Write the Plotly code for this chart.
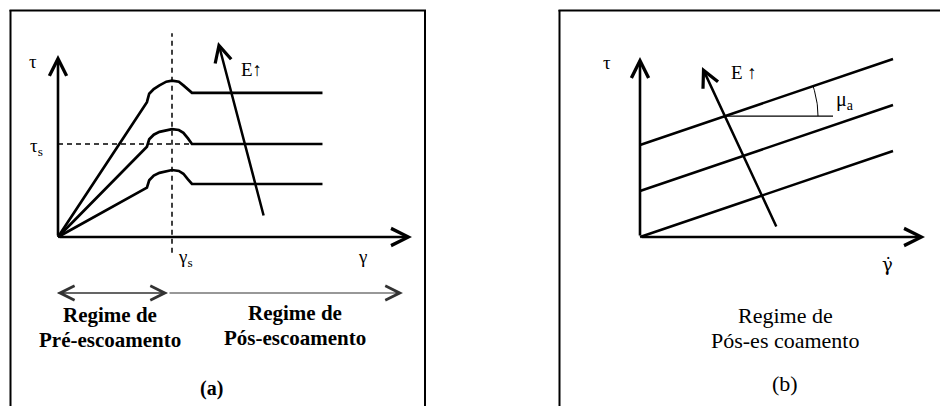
import numpy as np
import plotly.graph_objects as go

# ---------------- Panel (a): pre-/post-yield stress-strain curves ----------------
# strain in units of the yield strain (gamma_s = 1), stress in units of tau_s (= 1)
GAMMA_A = [0, 0.78, 0.80, 0.84, 0.89, 0.95, 1.0, 1.06, 1.10, 1.14, 1.175, 2.32]
TAU_HIGH = [0, 1.45, 1.54, 1.59, 1.63, 1.67, 1.68, 1.67, 1.63, 1.59, 1.55, 1.55]
TAU_MID = [0, 0.97, 1.05, 1.10, 1.13, 1.15, 1.16, 1.15, 1.12, 1.06, 1.00, 1.00]
TAU_LOW = [0, 0.53, 0.61, 0.66, 0.69, 0.71, 0.72, 0.71, 0.68, 0.62, 0.57, 0.57]
GAMMA_S = 1.0
TAU_S = 1.0
PLATEAU_START = 1.175

# ---------------- Panel (b): Bingham lines in the post-yield regime ----------------
GAMMADOT_B = [0.0, 2.53]
TAU0_B = [0.0, 0.46, 0.92]      # dynamic yield stress of each line
MU_A = 0.34                      # common slope (plastic viscosity)
GAMMADOT_MU = 0.85               # where the slope marker sits on the top line

LABELS_A = {"pre": ["Regime de", "Pré-escoamento"], "post": ["Regime de", "Pós-escoamento"]}
LABELS_B = ["Regime de", "Pós-es coamento"]

SERIF = "Liberation Serif"
BLACK = "black"

fig = go.Figure()

# curves of panel (a)
for tau in (TAU_HIGH, TAU_MID, TAU_LOW):
    fig.add_trace(go.Scatter(x=GAMMA_A, y=tau, mode="lines",
                             line=dict(color=BLACK, width=2.7),
                             xaxis="x", yaxis="y", hoverinfo="skip"))

# yield guides (dashed)
fig.add_trace(go.Scatter(x=[GAMMA_S, GAMMA_S], y=[-0.17, 2.19], mode="lines",
                         line=dict(color=BLACK, width=1.5, dash="5px,4px"),
                         xaxis="x", yaxis="y", hoverinfo="skip"))
fig.add_trace(go.Scatter(x=[0, PLATEAU_START], y=[TAU_S, TAU_S], mode="lines",
                         line=dict(color=BLACK, width=1.5, dash="5px,4px"),
                         xaxis="x", yaxis="y", hoverinfo="skip"))

# lines of panel (b)
gd = np.array(GAMMADOT_B)
for t0 in TAU0_B:
    fig.add_trace(go.Scatter(x=gd, y=t0 + MU_A * gd, mode="lines",
                             line=dict(color=BLACK, width=2.5),
                             xaxis="x2", yaxis="y2", hoverinfo="skip"))

# slope marker: horizontal reference and angle arc
x0 = GAMMADOT_MU
y0 = TAU0_B[-1] + MU_A * x0
fig.add_trace(go.Scatter(x=[x0, x0 + 1.08], y=[y0, y0], mode="lines",
                         line=dict(color=BLACK, width=1.3),
                         xaxis="x2", yaxis="y2", hoverinfo="skip"))
theta = np.linspace(0, np.arctan(MU_A), 20)
r = 0.93
fig.add_trace(go.Scatter(x=x0 + r * np.cos(theta), y=y0 + r * np.sin(theta), mode="lines",
                         line=dict(color=BLACK, width=1.0),
                         xaxis="x2", yaxis="y2", hoverinfo="skip"))


def arrow(x, y, ax, ay, ref, width=2.6, head=5, size=1.3, color=BLACK):
    xr, yr = ref
    return dict(x=x, y=y, ax=ax, ay=ay, xref=xr, yref=yr, axref=xr, ayref=yr,
                text="", showarrow=True, arrowhead=head,
                arrowsize=size, arrowwidth=width, arrowcolor=color, standoff=0)


def label(x, y, text, ref, size=16, color=BLACK, family=SERIF):
    xr, yr = ref
    return dict(x=x, y=y, xref=xr, yref=yr, text=text, showarrow=False,
                font=dict(family=family, size=size, color=color),
                xanchor="center", yanchor="middle")


A = ("x", "y")
B = ("x2", "y2")
ann = []

# axes of panel (a)
ann.append(arrow(0, 1.957, 0, 0, A))
ann.append(arrow(3.105, 0, 0, 0, A))
# field-strength arrow (a)
ann.append(arrow(1.404, 2.097, 1.807, 0.215, A, width=2.5))
# regime span arrows
ann.append(arrow(-0.01, -0.602, 0.965, -0.602, A, width=1.1, size=2.6, color="#333"))
ann.append(arrow(0.965, -0.602, -0.01, -0.602, A, width=1.1, size=2.6, color="#333"))
ann.append(arrow(3.026, -0.602, 0.965, -0.602, A, width=1.1, size=2.6, color="#333"))

ann.append(label(-0.219, 1.882, "τ", A, 19))
ann.append(label(-0.19, 0.968, "τ<sub>s</sub>", A, 19))
ann.append(label(1.12, -0.226, "γ<sub>s</sub>", A, 19))
ann.append(label(2.675, -0.215, "γ", A, 19))
ann.append(label(1.693, 1.796, "E↑", A, 19))
ann.append(label(0.456, -0.839, "<b>%s</b>" % LABELS_A["pre"][0], A, 21))
ann.append(label(0.456, -1.108, "<b>%s</b>" % LABELS_A["pre"][1], A, 21))
ann.append(label(2.079, -0.817, "<b>%s</b>" % LABELS_A["post"][0], A, 21))
ann.append(label(2.079, -1.086, "<b>%s</b>" % LABELS_A["post"][1], A, 21))
ann.append(label(1.35, -1.63, "<b>(a)</b>", A, 20))

# axes of panel (b)
ann.append(arrow(0, 1.80, 0, 0, B))
ann.append(arrow(2.85, 0, 0, 0, B))
ann.append(arrow(0.62, 1.70, 1.37, 0.09, B, width=2.5))

ann.append(label(-0.33, 1.75, "τ", B, 19))
ann.append(label(1.04, 1.65, "E ↑", B, 19))
ann.append(label(2.05, 1.37, "μ<sub>a</sub>", B, 20))
ann.append(label(2.47, -0.27, "\u03b3\u0307", B, 18, family="DejaVu Serif"))
ann.append(label(1.45, -0.78, LABELS_B[0], B, 22))
ann.append(label(1.45, -1.03, LABELS_B[1], B, 22))
ann.append(label(1.45, -1.46, "(b)", B, 22))

# panel frames
W, H = 940.0, 406.0
def vline(px, top_px):
    return dict(type="line", xref="paper", yref="paper", x0=px / W, x1=px / W,
                y0=0, y1=1 - top_px / H, line=dict(color=BLACK, width=2))
def hline(px0, px1, py):
    return dict(type="line", xref="paper", yref="paper", x0=px0 / W, x1=px1 / W,
                y0=1 - py / H, y1=1 - py / H, line=dict(color=BLACK, width=2))

shapes = [vline(10.5, 10), hline(9.5, 426, 10.5), vline(425, 10),
          vline(559.5, 10), hline(558.5, 940, 10.5)]

fig.update_layout(
    width=940, height=406,
    margin=dict(l=0, r=0, t=0, b=0),
    paper_bgcolor="white", plot_bgcolor="white",
    showlegend=False,
    xaxis=dict(domain=[0, 0.5], range=[-0.5088, 3.614], visible=False, fixedrange=True),
    yaxis=dict(domain=[0, 1], range=[-1.817, 2.548], visible=False, fixedrange=True),
    xaxis2=dict(domain=[0.5, 1], range=[-1.70, 3.0], visible=False, anchor="y2", fixedrange=True),
    yaxis2=dict(domain=[0, 1], range=[-1.69, 2.37], visible=False, anchor="x2", fixedrange=True),
    annotations=ann,
    shapes=shapes,
)

fig.write_html("out.html")
